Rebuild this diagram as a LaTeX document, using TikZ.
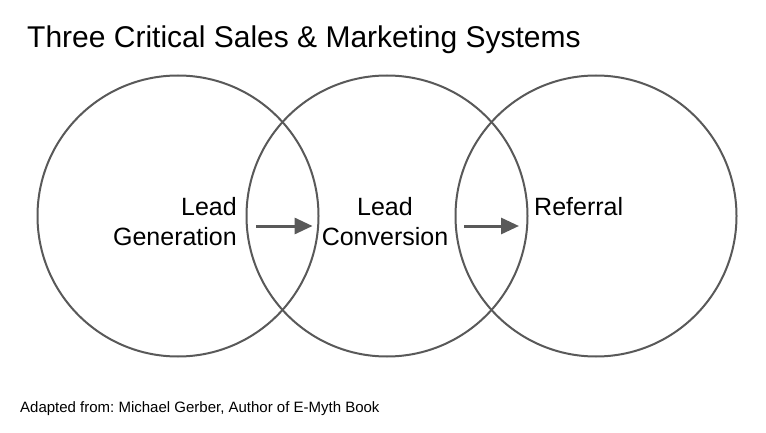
\documentclass[tikz,border=0pt]{standalone}
\usepackage{fontspec}
\setmainfont{Liberation Sans}
\usetikzlibrary{arrows.meta}
\definecolor{ringgray}{HTML}{595959}
\frenchspacing

\begin{document}
\begin{tikzpicture}[x=1pt,y=1pt,
  ring/.style={circle,draw=ringgray,line width=2pt,minimum size=281pt,inner sep=0pt},
  label/.style={inner sep=0pt,font=\fontsize{25}{30}\selectfont},
  flow/.style={draw=ringgray,line width=3pt,-{Triangle[length=18pt,width=16pt]},ringgray}]
\useasboundingbox (0,0) rectangle (766,432);
\node[ring] (genring) at (178,216) {};
\node[ring] (convring) at (387,216) {};
\node[ring] (refring) at (596,216) {};
\node[anchor=base west,inner sep=0pt,font=\fontsize{30}{36}\selectfont] (title) at (27,384) {Three Critical Sales \& Marketing Systems};
\node[label,align=right,anchor=east] (gen) at (237,210) {Lead\\Generation};
\node[label,align=center,anchor=center] (conv) at (385,210) {Lead\\Conversion};
\node[label,anchor=north west] (ref) at (gen.north -| 534,0) {Referral};
\draw[flow,shorten <=19pt,shorten >=9pt] ([yshift=-4pt]gen.east) -- ([yshift=-4pt]gen.east -| conv.west);
\draw[flow,shorten <=16pt,shorten >=15pt] ([yshift=-4pt]conv.east) -- ([yshift=-4pt]conv.east -| ref.west);
\node[anchor=base west,inner sep=0pt,font=\fontsize{15}{18}\selectfont] (source) at (20,20) {Adapted from: Michael Gerber, Author of E-Myth Book};
\end{tikzpicture}
\end{document}
